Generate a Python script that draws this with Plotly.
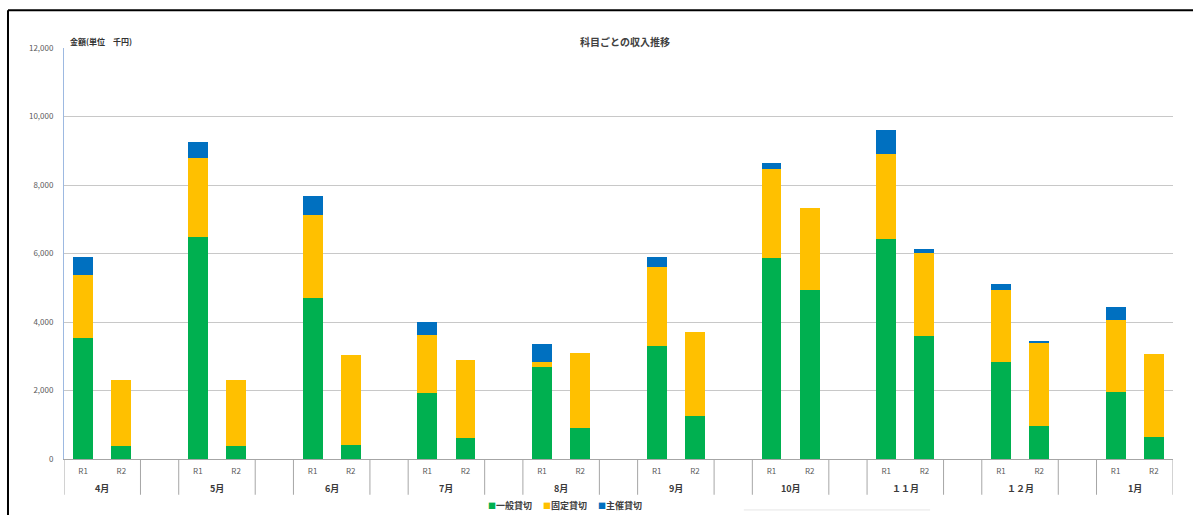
import plotly.graph_objects as go

# Revenue by booking type, thousand yen, per month for two fiscal years (R1 / R2)
months = ["4月", "5月", "6月", "7月", "8月", "9月", "10月", "１１月", "１２月", "1月"]
periods = ["R1", "R2"]

general_r1 = [3520, 6470, 4700, 1920, 2700, 3310, 5870, 6420, 2830, 1970]
general_r2 = [370, 370, 420, 600, 900, 1260, 4920, 3600, 950, 640]
fixed_r1 = [1840, 2330, 2425, 1710, 130, 2285, 2600, 2485, 2105, 2090]
fixed_r2 = [1950, 1950, 2615, 2300, 2205, 2435, 2410, 2415, 2435, 2435]
hosted_r1 = [525, 460, 565, 380, 535, 300, 175, 700, 165, 380]
hosted_r2 = [0, 0, 0, 0, 0, 0, 0, 105, 70, 0]

series = [
    ("一般貸切", general_r1, general_r2, "#00B050"),
    ("固定貸切", fixed_r1, fixed_r2, "#FFC000"),
    ("主催貸切", hosted_r1, hosted_r2, "#0070C0"),
]

FONT = "Noto Sans CJK JP, sans-serif"
TEXT = "#404040"

# each month takes three slots: R1, R2 and an empty spacer
SLOTS = 3
n = len(months)
xpos, xlabels = [], []
for g in range(n):
    for k, p in enumerate(periods):
        xpos.append(g * SLOTS + k)
        xlabels.append(p)

fig = go.Figure()
for name, r1, r2, color in series:
    vals = []
    for g in range(n):
        vals.extend([r1[g], r2[g]])
    fig.add_trace(go.Bar(
        x=xpos, y=vals, name=name, width=0.52,
        marker=dict(color=color, line=dict(width=0)),
        showlegend=False,
    ))

x_lo, x_hi = -0.5, n * SLOTS - 1.5

# group separators below the axis
bounds = [x_lo]
for g in range(n):
    bounds.append(g * SLOTS + 1.5)
    if g * SLOTS + 2.5 < x_hi:
        bounds.append(g * SLOTS + 2.5)
shapes = [
    dict(type="line", xref="x", yref="paper", x0=b, x1=b, y0=0, y1=-0.087,
         line=dict(color="#A6A6A6", width=1))
    for b in bounds
]
# outer frame
shapes += [
    dict(type="line", xref="paper", yref="paper", x0=-0.0505, x1=-0.0505,
         y0=1.092, y1=-0.2, line=dict(color="#000000", width=2)),
    dict(type="line", xref="paper", yref="paper", x0=-0.0505, x1=1.03,
         y0=1.092, y1=1.092, line=dict(color="#000000", width=2)),
    dict(type="line", xref="paper", yref="paper", x0=0.613, x1=0.781,
         y0=-0.124, y1=-0.124, line=dict(color="#E6E6E6", width=1)),
]

annotations = [
    dict(text=m, x=g * SLOTS + 0.5, xref="x", y=-0.0728, yref="paper",
         showarrow=False, xanchor="center", yanchor="middle",
         font=dict(family=FONT, size=9, color="#3A3A3A", weight=600))
    for g, m in enumerate(months)
]
annotations += [
    dict(text="<b>科目ごとの収入推移</b>", x=0.506, xref="paper", y=1.0146,
         yref="paper", showarrow=False, xanchor="center", yanchor="middle",
         font=dict(family=FONT, size=10, color=TEXT)),
    dict(text="金額(単位　千円)", x=0.0036, xref="paper", y=1.017,
         yref="paper", showarrow=False, xanchor="left", yanchor="middle",
         font=dict(family=FONT, size=8, color="#333333", weight=600)),
]
legend_parts = []
for name, _, _, color in series:
    legend_parts.append(
        f"<span style='color:{color};font-size:8px'>■</span>{name}"
    )
annotations.append(
    dict(text="　 ".join(legend_parts), x=0.452, xref="paper", y=-0.114,
         yref="paper", showarrow=False, xanchor="center", yanchor="middle",
         font=dict(family=FONT, size=9, color=TEXT, weight=600))
)

fig.update_layout(
    width=1193, height=515,
    margin=dict(l=64, r=20, t=48, b=56),
    barmode="stack",
    paper_bgcolor="#FFFFFF", plot_bgcolor="#FFFFFF",
    font=dict(family=FONT, color=TEXT),
    shapes=shapes,
    annotations=annotations,
    showlegend=False,
    xaxis=dict(
        range=[x_lo, x_hi], tickmode="array", tickvals=xpos, ticktext=xlabels,
        showgrid=False, zeroline=False, showline=True,
        linecolor="#A6A6A6", linewidth=1, ticks="",
        tickfont=dict(family=FONT, size=8, color="#595959"),
        ticklabelstandoff=4,
    ),
    yaxis=dict(
        range=[0, 12000], tickmode="linear", dtick=2000, tick0=0,
        tickformat=",", showgrid=True, gridcolor="#C8C8C8", gridwidth=1,
        zeroline=False, showline=True, linecolor="#9DB9E1", linewidth=1,
        ticks="", tickfont=dict(family=FONT, size=8, color="#595959"),
        ticklabelstandoff=8,
    ),
)

fig.write_html("out.html")
